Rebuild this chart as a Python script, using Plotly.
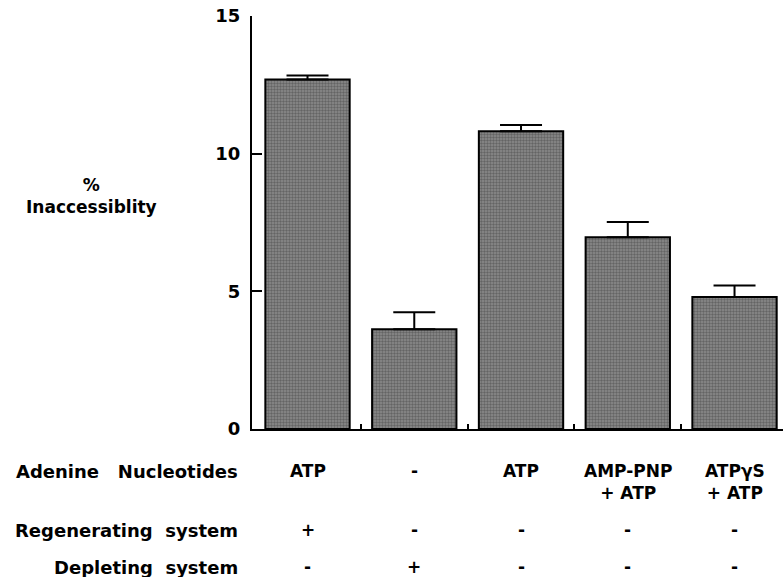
import plotly.graph_objects as go

# ---- data ----
positions = [0, 1, 2, 3, 4]
nucleotides = ["ATP", "-", "ATP", "AMP-PNP<br>+ ATP", "ATP\u03b3S<br>+ ATP"]
regenerating = ["+", "-", "-", "-", "-"]
depleting = ["-", "+", "-", "-", "-"]
inaccessibility = [12.69, 3.62, 10.81, 6.96, 4.79]
sem = [0.15, 0.62, 0.23, 0.56, 0.42]
row_labels = ["Adenine\u00a0\u00a0\u00a0Nucleotides", "Regenerating\u00a0\u00a0system", "Depleting\u00a0\u00a0system"]
y_ticks = [0, 5, 10, 15]

FONT = "DejaVu Sans"

fig = go.Figure()
fig.add_trace(go.Bar(
    x=positions, y=inaccessibility, width=0.79,
    marker=dict(color="#707070",
                line=dict(color="black", width=2),
                pattern=dict(shape=".", size=3, solidity=0.5, fgcolor="#3c3c3c", bgcolor="#8c8c8c")),
    error_y=dict(type="data", array=sem, arrayminus=[0]*len(sem), symmetric=False,
                 color="black", thickness=2, width=21),
    showlegend=False,
))

annotations = []
# y-axis title
annotations.append(dict(text="%<br>Inaccessiblity", xref="paper", yref="paper",
                        x=(91 - 252) / 531, y=(429 - 196) / 413, xanchor="center", yanchor="middle",
                        showarrow=False, align="center",
                        font=dict(family=FONT, size=17, color="black", weight="bold")))
# row labels
row_y = [(429 - 471) / 413, (429 - 530) / 413, (429 - 567) / 413]
for lab, yy in zip(row_labels, row_y):
    annotations.append(dict(text=lab, xref="paper", yref="paper", x=(240 - 252) / 531, y=yy,
                            xanchor="right", yanchor="middle", showarrow=False,
                            font=dict(family=FONT, size=18, color="black", weight="bold")))
# table entries
for i, p in enumerate(positions):
    annotations.append(dict(text=nucleotides[i], xref="x", yref="paper", x=p, y=(429 - 459) / 413,
                            xanchor="center", yanchor="top", showarrow=False, align="center",
                            font=dict(family=FONT, size=17, color="black", weight="bold")))
    annotations.append(dict(text=regenerating[i], xref="x", yref="paper", x=p, y=row_y[1],
                            xanchor="center", yanchor="middle", showarrow=False,
                            font=dict(family=FONT, size=17, color="black", weight="bold")))
    annotations.append(dict(text=depleting[i], xref="x", yref="paper", x=p, y=row_y[2],
                            xanchor="center", yanchor="middle", showarrow=False,
                            font=dict(family=FONT, size=17, color="black", weight="bold")))

fig.update_layout(
    width=783, height=577,
    margin=dict(l=252, r=0, t=16, b=148),
    paper_bgcolor="white", plot_bgcolor="white",
    bargap=0.21,
    annotations=annotations,
    xaxis=dict(range=[-0.52, 4.454], tickvals=[0.5, 1.5, 2.5, 3.5], ticks="inside", ticklen=5,
               tickwidth=2, tickcolor="black", showticklabels=False, showline=True, linewidth=2,
               linecolor="black", showgrid=False, zeroline=False),
    yaxis=dict(range=[0, 15], tickvals=y_ticks, ticks="inside", ticklen=10, tickwidth=2,
               tickcolor="black", showline=True, linewidth=2, linecolor="black",
               showgrid=False, zeroline=False, ticklabelstandoff=6,
               tickfont=dict(family=FONT, size=18, color="black", weight="bold")),
)

fig.write_html("out.html")
